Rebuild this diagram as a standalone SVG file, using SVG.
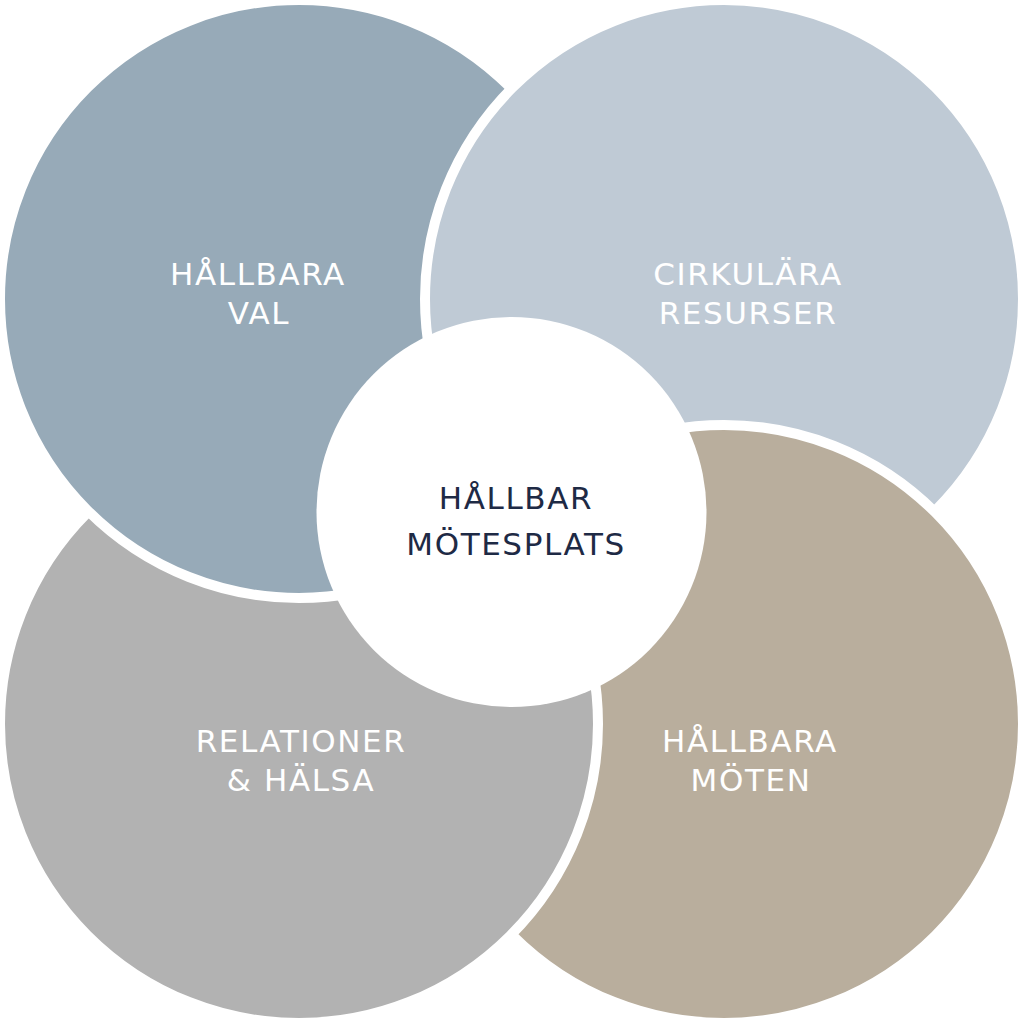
<svg xmlns="http://www.w3.org/2000/svg" width="1024" height="1024" viewBox="0 0 1024 1024">
  <defs>
    <style>
      .petal { stroke: #ffffff; stroke-width: 10; }
      .lbl { font-family: "DejaVu Sans", "Open Sans", sans-serif; font-size: 31px; letter-spacing: 1.6px; fill: #ffffff; text-anchor: middle; }
      .ctr { font-family: "DejaVu Sans", "Open Sans", sans-serif; font-size: 31px; letter-spacing: 1.6px; fill: #1e2a45; text-anchor: middle; }
    </style>
    <clipPath id="tlOverlap">
      <rect x="0" y="400" width="420" height="624"/>
    </clipPath>
  </defs>
  <rect x="0" y="0" width="1024" height="1024" fill="#ffffff"/>

  <g id="node-hallbara-val">
    <circle class="petal" cx="299" cy="299" r="299" fill="#97aab8"/>
  </g>
  <g id="node-cirkulara-resurser">
    <circle class="petal" cx="724" cy="299" r="299" fill="#bfcad5"/>
  </g>
  <g id="node-hallbara-moten">
    <circle class="petal" cx="724" cy="724" r="299" fill="#b9ae9d"/>
  </g>
  <g id="node-relationer-halsa">
    <circle class="petal" cx="299" cy="724" r="299" fill="#b2b2b2"/>
  </g>
  <g id="node-hallbara-val-overlap" clip-path="url(#tlOverlap)">
    <circle class="petal" cx="299" cy="299" r="299" fill="#97aab8"/>
  </g>

  <g id="connectors"></g>

  <g id="node-center">
    <circle cx="511.5" cy="512" r="195" fill="#ffffff"/>
    <text class="ctr" x="516" y="509">HÅLLBAR</text>
    <text class="ctr" x="516" y="555">MÖTESPLATS</text>
  </g>

  <g id="labels">
    <text class="lbl" x="258" y="285">HÅLLBARA</text>
    <text class="lbl" x="259" y="324">VAL</text>
    <text class="lbl" x="748" y="285">CIRKULÄRA</text>
    <text class="lbl" x="748" y="324">RESURSER</text>
    <text class="lbl" x="301" y="752">RELATIONER</text>
    <text class="lbl" x="301" y="791">&amp; HÄLSA</text>
    <text class="lbl" x="750" y="752">HÅLLBARA</text>
    <text class="lbl" x="751" y="791">MÖTEN</text>
  </g>
</svg>
